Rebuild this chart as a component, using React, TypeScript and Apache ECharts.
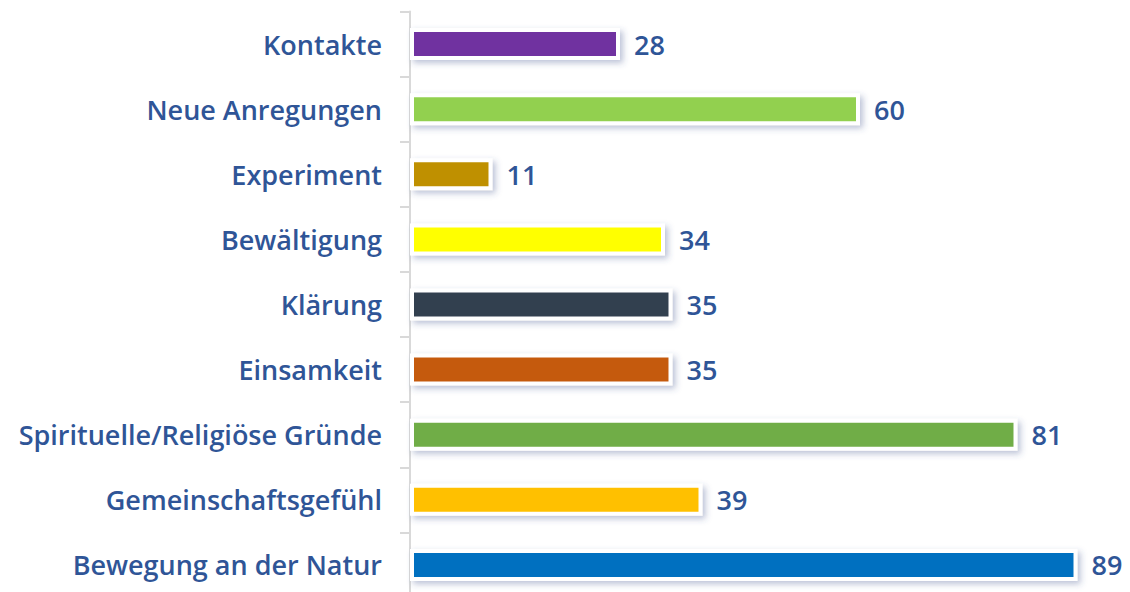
import React, { useEffect, useRef } from "react";
import * as echarts from "echarts";

const categories = [
  "Kontakte",
  "Neue Anregungen",
  "Experiment",
  "Bewältigung",
  "Klärung",
  "Einsamkeit",
  "Spirituelle/Religiöse Gründe",
  "Gemeinschaftsgefühl",
  "Bewegung an der Natur",
];
const values = [28, 60, 11, 34, 35, 35, 81, 39, 89];
const colors = [
  "#7030A0",
  "#92D050",
  "#BF9000",
  "#FFFF00",
  "#333F50",
  "#C55A11",
  "#70AD47",
  "#FFC000",
  "#0070C0",
];

const textColor = "#2F5597";
const font = "'Open Sans', 'DejaVu Sans', sans-serif";

export default function App() {
  const ref = useRef<HTMLDivElement>(null);
  useEffect(() => {
    document.documentElement.style.overflow = "hidden";
    document.body.style.margin = "0";
    document.body.style.overflow = "hidden";
    const chart = echarts.init(ref.current!, null, { renderer: "svg" });
    chart.setOption({
      animation: false,
      backgroundColor: "#ffffff",
      grid: { left: 410, right: 7.5, top: 11.5, bottom: 2.5, containLabel: false },
      xAxis: {
        type: "value",
        min: 0,
        max: 95,
        show: false,
      },
      yAxis: {
        type: "category",
        data: categories,
        inverse: true,
        axisLine: { show: true, lineStyle: { color: "#D9D9D9", width: 2 } },
        axisTick: { show: true, length: 10, lineStyle: { color: "#D9D9D9", width: 2 } },
        axisLabel: {
          color: textColor,
          fontFamily: font,
          fontSize: 27,
          fontWeight: 600,
          margin: 28,
        },
      },
      series: [
        {
          type: "bar",
          data: values.map((v, i) => ({
            value: v,
            itemStyle: { color: colors[i] },
          })),
          barWidth: 32,
          itemStyle: {
            borderColor: "#ffffff",
            borderWidth: 4,
            shadowColor: "rgba(60,80,140,0.35)",
            shadowBlur: 6,
            shadowOffsetX: 3,
            shadowOffsetY: 3,
          },
          label: {
            show: true,
            position: "right",
            distance: 14,
            color: textColor,
            fontFamily: font,
            fontSize: 27,
            fontWeight: 600,
          },
        },
      ],
    });
    return () => chart.dispose();
  }, []);
  return <div ref={ref} style={{ width: 1130, height: 600 }} />;
}
